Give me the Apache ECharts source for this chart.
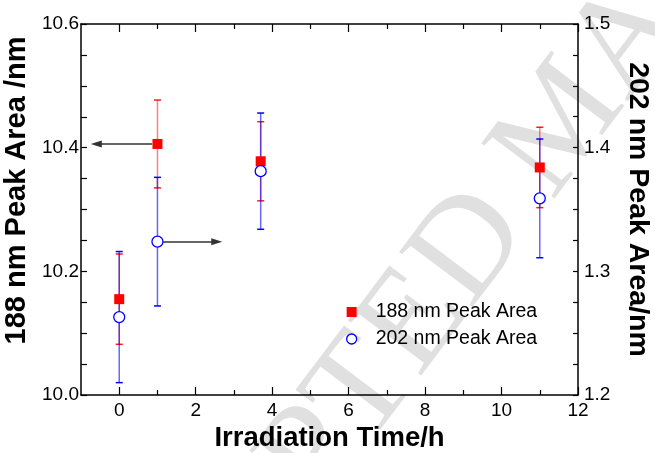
<!DOCTYPE html>
<html><head><meta charset="utf-8">
<script src="https://cdn.jsdelivr.net/npm/echarts@6/dist/echarts.min.js"></script>
<style>html,body{margin:0;padding:0;background:#fff}#c{width:655px;height:453px}</style>
</head><body><div id="c"></div>
<script>
// ---- data ----
const times = [0, 1, 3.7, 11];
const area188 = [10.155, 10.406, 10.378, 10.368];
const err188 = [0.073, 0.071, 0.064, 0.065];
const area202 = [1.263, 1.324, 1.381, 1.359];
const err202 = [0.053, 0.052, 0.047, 0.048];
const seriesNames = ['188 nm Peak Area', '202 nm Peak Area'];
const xTickLabels = [0, 2, 4, 6, 8, 10, 12];
const xMinorTicks = [1, 3, 5, 7, 9, 11];
const yLeftTickLabels = [10.0, 10.2, 10.4, 10.6];
const yRightTickLabels = [1.2, 1.3, 1.4, 1.5];
// arrow x extents (hours) drawn at the t=1 value of each series
const arrow188 = [0.86, -0.6];
const arrow202 = [1.14, 2.55];

const FONT = "'Liberation Sans', Arial, sans-serif";

function steps(a, b, s) { const r = []; for (let v = a; v <= b + 1e-9; v += s) r.push(+v.toFixed(4)); return r; }

function errRender(color, capColor) {
  return function (params, api) {
    const x = api.value(0), lo = api.value(1), hi = api.value(2);
    const p1 = api.coord([x, lo]), p2 = api.coord([x, hi]);
    const w = 3.5;
    return { type: 'group', children: [
      { type: 'line', shape: { x1: p1[0], y1: p1[1], x2: p2[0], y2: p2[1] }, style: { stroke: color, lineWidth: 1.5 } },
      { type: 'line', shape: { x1: p1[0] - w, y1: p1[1], x2: p1[0] + w, y2: p1[1] }, style: { stroke: capColor, lineWidth: 1.5 } },
      { type: 'line', shape: { x1: p2[0] - w, y1: p2[1], x2: p2[0] + w, y2: p2[1] }, style: { stroke: capColor, lineWidth: 1.5 } }
    ] };
  };
}

const baseX = { type: 'value', min: -1, max: 12, interval: 1, splitLine: { show: false } };
const axLine = { show: true, onZero: false, lineStyle: { color: '#000', width: 1.5 } };

const option = {
  animation: false,
  backgroundColor: '#fff',
  grid: { left: 81, top: 24, right: 77, bottom: 58, containLabel: false, outerBoundsMode: 'none' },
  graphic: [{
    type: 'text', x: 566, y: 122, rotation: 0.925, z: -10, silent: true,
    style: { text: 'ACCEPTED MANUSCRIPT', fill: '#e0e0e0', font: "140px 'Liberation Serif', 'Times New Roman', serif",
      align: 'center', verticalAlign: 'middle', textAlign: 'center', textVerticalAlign: 'middle' }
  }],
  legend: {
    orient: 'vertical', left: 341, top: 297, itemWidth: 10, itemHeight: 10, itemGap: 7,
    textStyle: { fontFamily: FONT, fontSize: 19.5, color: '#000', padding: [0, 0, 0, 14] },
    data: [
      { name: seriesNames[0], icon: 'rect', itemStyle: { color: '#ff0000', borderWidth: 0 } },
      { name: seriesNames[1], icon: 'circle', itemStyle: { color: '#fff', borderColor: '#0000ff', borderWidth: 1.3 } }
    ]
  },
  xAxis: [
    Object.assign({}, baseX, { position: 'bottom', axisLine: axLine,
      axisTick: { inside: true, length: 8, lineStyle: { color: '#000', width: 1.2 }, customValues: xTickLabels },
      axisLabel: { customValues: xTickLabels, margin: 6, fontFamily: FONT, fontSize: 19, color: '#000' },
      name: 'Irradiation Time/h', nameLocation: 'middle', nameGap: 29,
      nameTextStyle: { fontFamily: FONT, fontSize: 27.5, fontWeight: 'bold', color: '#000' } }),
    Object.assign({}, baseX, { position: 'bottom', axisLine: { show: false },
      axisTick: { inside: true, length: 5, lineStyle: { color: '#000', width: 1.2 }, customValues: xMinorTicks },
      axisLabel: { show: false } }),
    Object.assign({}, baseX, { position: 'top', axisLine: axLine,
      axisTick: { inside: true, length: 8, lineStyle: { color: '#000', width: 1.2 }, customValues: xTickLabels },
      axisLabel: { show: false } }),
    Object.assign({}, baseX, { position: 'top', axisLine: { show: false },
      axisTick: { inside: true, length: 5, lineStyle: { color: '#000', width: 1.2 }, customValues: xMinorTicks },
      axisLabel: { show: false } })
  ],
  yAxis: [
    { type: 'value', position: 'left', min: 10, max: 10.6, interval: 0.05, splitLine: { show: false },
      axisLine: axLine,
      axisTick: { inside: true, length: 6, lineStyle: { color: '#000', width: 1.2 }, customValues: steps(10, 10.6, 0.05) },
      axisLabel: { customValues: yLeftTickLabels, margin: 2, fontFamily: FONT, fontSize: 19, color: '#000', formatter: v => (+v).toFixed(1) },
      name: '188 nm Peak Area /nm', nameLocation: 'middle', nameGap: 41, nameRotate: 90,
      nameTextStyle: { fontFamily: FONT, fontSize: 29, fontWeight: 'bold', color: '#000', padding: [0, 0, 0, 38] } },
    { type: 'value', position: 'right', min: 1.2, max: 1.5, interval: 0.025, splitLine: { show: false },
      axisLine: axLine,
      axisTick: { inside: true, length: 5, lineStyle: { color: '#000', width: 1.2 }, customValues: steps(1.2, 1.5, 0.025) },
      axisLabel: { customValues: yRightTickLabels, margin: 6, fontFamily: FONT, fontSize: 19, color: '#000', formatter: v => (+v).toFixed(1) },
      name: '202 nm Peak Area/nm', nameLocation: 'middle', nameGap: 45, nameRotate: -90,
      nameTextStyle: { fontFamily: FONT, fontSize: 28.5, fontWeight: 'bold', color: '#000' } }
  ],
  series: [
    { type: 'custom', name: 'err188', yAxisIndex: 0, z: 1, silent: true,
      renderItem: errRender('rgba(255,0,0,0.5)', 'rgba(255,0,0,0.9)'),
      encode: { x: 0, y: [1, 2] },
      data: times.map((t, i) => [t, area188[i] - err188[i], area188[i] + err188[i]]) },
    { type: 'custom', name: 'err202', yAxisIndex: 1, z: 2, silent: true,
      renderItem: errRender('rgba(0,0,255,0.6)', '#0000ff'),
      encode: { x: 0, y: [1, 2] },
      data: times.map((t, i) => [t, area202[i] - err202[i], area202[i] + err202[i]]) },
    { type: 'scatter', name: seriesNames[0], yAxisIndex: 0, z: 3, symbol: 'rect', symbolSize: 10,
      itemStyle: { color: '#ff0000', opacity: 1 },
      data: times.map((t, i) => [t, area188[i]]),
      markLine: { silent: true, symbol: ['none', 'triangle'], symbolSize: [7, 11],
        label: { show: false }, lineStyle: { color: '#333', width: 1.5, type: 'solid' },
        data: [[{ coord: [arrow188[0], area188[1]] }, { coord: [arrow188[1], area188[1]] }]] } },
    { type: 'scatter', name: seriesNames[1], yAxisIndex: 1, z: 4, symbol: 'circle', symbolSize: 11,
      itemStyle: { color: '#fff', borderColor: '#0000ff', borderWidth: 1.3, opacity: 1 },
      data: times.map((t, i) => [t, area202[i]]),
      markLine: { silent: true, symbol: ['none', 'triangle'], symbolSize: [7, 11],
        label: { show: false }, lineStyle: { color: '#333', width: 1.5, type: 'solid' },
        data: [[{ coord: [arrow202[0], area202[1]] }, { coord: [arrow202[1], area202[1]] }]] } }
  ]
};
const chart = echarts.init(document.getElementById('c'), null, { renderer: 'canvas' });
chart.setOption(option);
</script></body></html>
